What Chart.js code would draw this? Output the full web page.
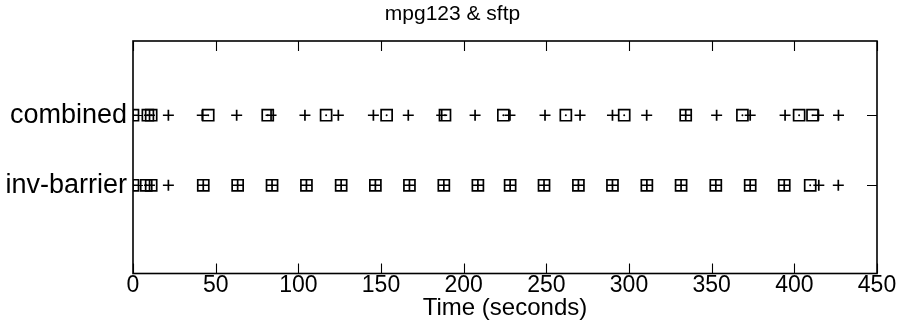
<!DOCTYPE html>
<html>
<head>
<meta charset="utf-8">
<script src="https://cdn.jsdelivr.net/npm/chart.js@4.4.1/dist/chart.umd.min.js"></script>
<style>
  html, body { margin: 0; padding: 0; background: #fff; }
  #c { display: block; }
</style>
</head>
<body>
<canvas id="c" width="905" height="324"></canvas>
<script>
// rows on the y axis (value 1 = bottom row, 2 = top row)
const rowNames = ["inv-barrier", "combined"];

// event times (seconds)
const combinedPlus = [0, 10, 21.4, 41.9, 62.7, 83.5, 104, 124.2, 145.4, 166.5, 186.7, 206.9,
    228, 249.2, 270.4, 290, 310.7, 334.3, 353, 373.3, 394.4, 414.6, 426.7];
const combinedSquare = [0, 9, 11, 45.5, 81.5, 116.8, 153.4, 188.7, 224, 261.8, 297.1,
    334.3, 368.6, 402.9, 411];
const invPlus = [0, 10, 21.4, 42.5, 63.3, 84.1, 104.9, 125.9, 146.6, 167.2, 188, 208.6,
    228.1, 248.6, 269.4, 290, 310.8, 331.5, 352.5, 373.3, 393.9, 414.8, 426.6];
const invSquare = [0, 8, 11, 42.5, 63.3, 84.1, 104.9, 125.9, 146.6, 167.2, 188, 208.6,
    228.1, 248.6, 269.4, 290, 310.8, 331.5, 352.5, 373.3, 393.9, 409.6];

const xTicks = [0, 50, 100, 150, 200, 250, 300, 350, 400, 450];

const FONT = "'Liberation Sans', Arial, Helvetica, sans-serif";

function toPoints(times, row) {
    return times.map(t => ({ x: t, y: row }));
}

// gnuplot style frame with inward ticks on all four sides
const framePlugin = {
    id: "frame",
    afterDraw(chart) {
        const ctx = chart.ctx;
        const a = chart.chartArea;
        const xs = chart.scales.x;
        const ys = chart.scales.y;
        const len = 10;
        ctx.save();
        ctx.strokeStyle = "#000";
        ctx.lineWidth = 1.6;
        ctx.strokeRect(a.left, a.top, a.right - a.left, a.bottom - a.top);
        ctx.lineWidth = 1.1;
        ctx.beginPath();
        xTicks.forEach(v => {
            const px = Math.round(xs.getPixelForValue(v)) + 0.5;
            ctx.moveTo(px, a.bottom);
            ctx.lineTo(px, a.bottom - len);
            ctx.moveTo(px, a.top);
            ctx.lineTo(px, a.top + len);
        });
        [1, 2].forEach(v => {
            const py = Math.round(ys.getPixelForValue(v)) + 0.5;
            ctx.moveTo(a.left, py);
            ctx.lineTo(a.left + len, py);
            ctx.moveTo(a.right, py);
            ctx.lineTo(a.right - len, py);
        });
        ctx.stroke();
        ctx.restore();
    }
};

const plusStyle = {
    pointStyle: "cross",
    pointRadius: 5.5,
    borderColor: "#000",
    borderWidth: 1.7,
    backgroundColor: "#000",
    showLine: false
};
const squareStyle = {
    pointStyle: "rect",
    pointRadius: 7.8,
    borderColor: "#000",
    borderWidth: 1.7,
    backgroundColor: "rgba(0,0,0,0)",
    showLine: false
};
const dotStyle = {
    pointStyle: "circle",
    pointRadius: 1,
    borderWidth: 0,
    backgroundColor: "#000",
    showLine: false
};

new Chart(document.getElementById("c"), {
    type: "scatter",
    data: {
        datasets: [
            Object.assign({ label: "combined +", data: toPoints(combinedPlus, 2) }, plusStyle),
            Object.assign({ label: "combined box", data: toPoints(combinedSquare, 2) }, squareStyle),
            Object.assign({ label: "combined dot", data: toPoints(combinedSquare, 2) }, dotStyle),
            Object.assign({ label: "inv-barrier +", data: toPoints(invPlus, 1) }, plusStyle),
            Object.assign({ label: "inv-barrier box", data: toPoints(invSquare, 1) }, squareStyle),
            Object.assign({ label: "inv-barrier dot", data: toPoints(invSquare, 1) }, dotStyle)
        ]
    },
    options: {
        responsive: false,
        animation: false,
        devicePixelRatio: 1,
        layout: { padding: 0 },
        plugins: {
            legend: { display: false },
            tooltip: { enabled: false },
            title: {
                display: true,
                text: "mpg123 & sftp",
                color: "#000",
                font: { family: FONT, size: 21, weight: "normal" },
                padding: { top: 1.4, bottom: 14.4 }
            }
        },
        scales: {
            x: {
                type: "linear",
                min: 0,
                max: 450,
                afterBuildTicks(scale) {
                    scale.ticks = xTicks.map(v => ({ value: v }));
                },
                afterFit(scale) { scale.height = 50.5; },
                grid: { display: false, drawTicks: false },
                border: { display: false },
                ticks: {
                    color: "#000",
                    padding: -2,
                    maxRotation: 0,
                    font: { family: FONT, size: 23 }
                },
                title: {
                    display: true,
                    text: "Time (seconds)",
                    color: "#000",
                    font: { family: FONT, size: 24 },
                    padding: { top: 0, bottom: 1.5 }
                }
            },
            y: {
                type: "linear",
                min: -0.26,
                max: 3.06,
                afterBuildTicks(scale) {
                    scale.ticks = [1, 2].map(v => ({ value: v }));
                },
                afterFit(scale) { scale.width = 133; },
                grid: { display: false, drawTicks: false },
                border: { display: false },
                ticks: {
                    color: "#000",
                    padding: 6,
                    font: { family: FONT, size: 27 },
                    callback: v => rowNames[v - 1]
                }
            },
            // empty right-hand axis, only reserves the margin on the right
            yRight: {
                type: "linear",
                position: "right",
                afterFit(scale) { scale.width = 28; },
                grid: { display: false, drawTicks: false },
                border: { display: false },
                ticks: { display: false }
            }
        }
    },
    plugins: [framePlugin]
});
</script>
</body>
</html>
